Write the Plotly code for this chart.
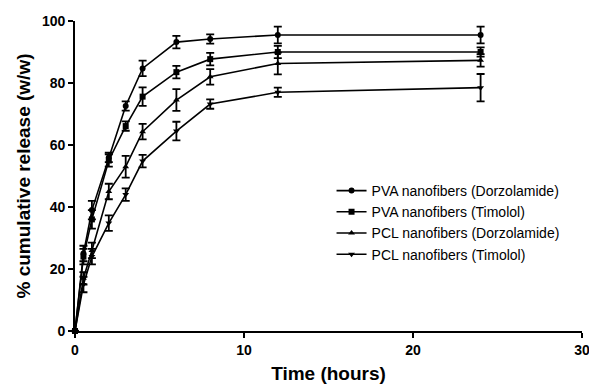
import plotly.graph_objects as go

time_h = [0, 0.5, 1, 2, 3, 4, 6, 8, 12, 24]

pva_dor = [0, 25, 39, 56, 72.6, 84.7, 93.2, 94.2, 95.5, 95.5]
pva_dor_err = [0, 2.5, 3, 1.5, 1.5, 2.5, 2, 1.5, 2.7, 2.7]
pva_tim = [0, 24, 36, 55, 66.1, 75.6, 83.5, 87.7, 90, 90]
pva_tim_err = [0, 2.5, 3, 2, 1.5, 3, 2, 2, 2, 1.5]
pcl_dor = [0, 17, 26, 45, 53, 64.3, 74.5, 82, 86.3, 87.3]
pcl_dor_err = [0, 2, 2.5, 2.5, 3.5, 2.5, 3.5, 2.5, 3.5, 2]
pcl_tim = [0, 15, 24, 34.8, 44, 54.8, 64.5, 73.2, 77, 78.5]
pcl_tim_err = [0, 2.5, 2.5, 2.5, 2, 2, 3, 1.5, 1.5, 4.4]

series = [
    ("PVA nanofibers (Dorzolamide)", pva_dor, pva_dor_err, "circle"),
    ("PVA nanofibers (Timolol)", pva_tim, pva_tim_err, "square"),
    ("PCL nanofibers (Dorzolamide)", pcl_dor, pcl_dor_err, "triangle-up"),
    ("PCL nanofibers (Timolol)", pcl_tim, pcl_tim_err, "triangle-down"),
]

fig = go.Figure()
for name, y, err, sym in series:
    fig.add_trace(go.Scatter(
        x=time_h, y=y, name=name, mode="lines+markers",
        line=dict(color="black", width=1.6),
        marker=dict(symbol=sym, color="black", size=6),
        error_y=dict(type="data", array=err, visible=True, color="black",
                     thickness=1.8, width=4),
        cliponaxis=False,
    ))

axis_font = dict(family="Liberation Sans, Arial, sans-serif", size=14, color="black")
title_font = dict(family="Liberation Sans, Arial, sans-serif", size=19, color="black")

fig.update_layout(
    width=589, height=385,
    margin=dict(l=75, r=7, t=21, b=54),
    paper_bgcolor="white", plot_bgcolor="white",
    showlegend=True,
    legend=dict(
        x=0.506, y=0.35, xanchor="left", yanchor="middle",
        font=dict(family="Liberation Sans, Arial, sans-serif", size=14, color="black"),
        bgcolor="rgba(0,0,0,0)", tracegroupgap=0, itemwidth=30,
    ),
    xaxis=dict(
        range=[0, 30], tickvals=[0, 10, 20, 30], automargin=False,
        showline=True, linecolor="black", linewidth=1.6,
        ticks="outside", ticklen=5, tickwidth=1.6, tickcolor="black",
        showgrid=False, zeroline=False, ticklabeloverflow="allow",
        tickfont=dict(axis_font, weight="bold"),
        title=dict(text="<b>Time (hours)</b>", font=title_font, standoff=10),
    ),
    yaxis=dict(
        range=[0, 100], tickvals=[0, 20, 40, 60, 80, 100], automargin=False,
        showline=True, linecolor="black", linewidth=1.6,
        ticks="outside", ticklen=5, tickwidth=1.6, tickcolor="black",
        showgrid=False, zeroline=False,
        tickfont=dict(axis_font, weight="bold"),
        title=dict(text="<b>% cumulative release (w/w)</b>", font=title_font, standoff=6),
    ),
)

fig.write_html("out.html")
